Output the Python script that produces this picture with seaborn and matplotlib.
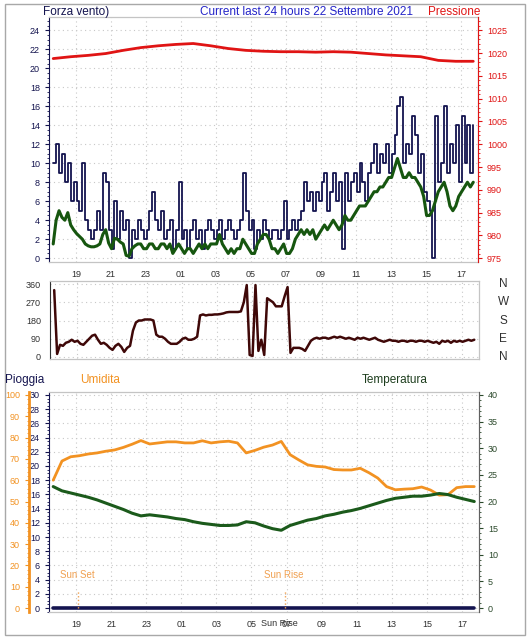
import numpy as np
import pandas as pd
import matplotlib
matplotlib.use("Agg")
import matplotlib.pyplot as plt
import matplotlib.transforms as mtransforms
from matplotlib.patches import Rectangle
from matplotlib.ticker import MultipleLocator
import seaborn as sns

sns.set_style("white")
plt.rcParams['font.family'] = ['Liberation Sans', 'DejaVu Sans']

# raffica (nodi) ogni 10 minuti, dalle 17:42
raffica = [10, 12, 9, 11, 8, 10,
           6, 8, 6, 5, 10, 4,
           3, 2, 3, 5, 3, 9,
           8, 3, 1, 6, 2, 5,
           3, 4, 0, 3, 2, 4,
           3, 2, 3, 5, 7, 4,
           3, 5, 2, 3, 4, 1,
           3, 8, 2, 3, 1, 3,
           4, 2, 3, 1, 3, 4,
           3, 2, 3, 4, 2, 3,
           4, 3, 2, 3, 4, 9,
           5, 3, 4, 1, 3, 2,
           4, 3, 2, 3, 3, 2,
           3, 6, 2, 3, 4, 3,
           4, 5, 8, 6, 7, 5,
           7, 6, 8, 9, 5, 7,
           9, 6, 8, 1, 9, 6,
           8, 9, 7, 10, 8, 6,
           9, 10, 12, 9, 11, 10,
           12, 9, 11, 13, 16, 17,
           10, 12, 11, 15, 13, 9,
           11, 7, 6, 5, 0, 15,
           8, 10, 16, 9, 12, 10,
           14, 8, 15, 10, 14, 9,
           14]

# vento medio ogni 10 minuti
media = [1.5, 4, 5, 4.3, 4, 4.8,
         3.5, 3, 2.6, 2.3, 2, 1.5,
         1.3, 1.2, 1.2, 1.3, 1.5, 2.5,
         3, 1.6, 1, 2.1, 2, 1.7,
         1.5, 0.3, 0.2, 1, 1.3, 1.5,
         1.5, 1, 1, 1.5, 1.5, 1,
         1, 1.5, 1.5, 1, 1.5, 0.5,
         1, 1.5, 1, 0.5, 1, 1,
         0.5, 1, 1.5, 1, 1.5, 1,
         1.5, 1.5, 1.5, 2.5, 1.5, 1,
         0.5, 1, 0.5, 1, 1, 2,
         1.5, 1, 0.5, 0.5, 1.5, 2,
         2.5, 2.5, 2, 1, 1, 0.5,
         1, 1.5, 0.5, 0.5, 1, 2,
         2.5, 3, 2.5, 3, 2.5, 3,
         2, 2.5, 3, 3.5, 3, 3.5,
         4, 3.5, 3, 3.5, 4.5, 4,
         4, 4.5, 5, 5.5, 5.5, 5.5,
         6, 6.5, 7, 7, 7.5, 7.5,
         8, 8.5, 8.5, 9.5, 10.5, 9.5,
         8.5, 8.5, 9, 8.5, 8.5, 8,
         7.5, 6.5, 4.5, 4.5, 5, 6,
         7, 7.5, 8, 7, 5.5, 5,
         5.5, 6.5, 7, 7.5, 8, 7.5,
         8]

# direzione del vento (gradi) ogni 10 minuti
direzione = [330, 15, 60, 55, 70, 75,
             85, 75, 80, 65, 60, 75,
             90, 105, 110, 85, 65, 70,
             60, 45, 35, 55, 65, 50,
             25, 45, 55, 130, 170, 180,
             180, 185, 185, 185, 180, 110,
             100, 100, 90, 75, 65, 65,
             65, 75, 90, 95, 85, 85,
             90, 100, 205, 210, 205, 208,
             208, 210, 210, 212, 215, 220,
             222, 222, 222, 222, 225, 270,
             355, 10, 5, 355, 30, 85,
             10, 290, 280, 270, 250, 250,
             250, 300, 345, 20, 45, 45,
             45, 40, 30, 55, 80, 90,
             95, 90, 95, 95, 90, 95,
             100, 95, 100, 95, 90, 95,
             90, 85, 95, 90, 95, 90,
             85, 90, 95, 85, 80, 75,
             80, 85, 80, 80, 75, 80,
             80, 75, 80, 80, 75, 80,
             80, 75, 80, 75, 70, 75,
             65, 80, 75, 80, 70, 80,
             75, 80, 75, 80, 85, 80,
             85]

# pressione (hPa) ogni ora
pressione = [1018.8, 1019.2, 1019.5, 1019.9, 1020.6, 1021.2, 1021.6, 1021.9,
             1022.1, 1021.6, 1021.0, 1020.6, 1020.4, 1020.3, 1020.3, 1020.2,
             1020.3, 1020.2, 1019.9, 1019.6, 1019.4, 1019.2, 1018.4, 1018.2,
             1018.2]

# umidita (%) ogni 30 minuti
umidita = [60, 69, 71, 71.5, 72.3, 72.8, 73.6, 74.2, 75.4, 76.9,
           78.6, 77, 77.5, 78, 78, 77.5, 77.5, 78.5, 77.5, 78,
           78.3, 77.5, 72.8, 74, 75.5, 76.5, 78.2, 72, 69.5, 67.2,
           66.5, 66.2, 65, 64.8, 64.8, 65.6, 63.5, 61, 57, 55.5,
           55.8, 56, 56.8, 55.4, 53, 53.2, 56.5, 57, 57]

# temperatura (C) ogni 30 minuti
temperatura = [22.8, 22.0, 21.6, 21.2, 20.8, 20.3, 19.7, 19.1, 18.5, 17.8,
               17.3, 17.5, 17.3, 17.1, 16.8, 16.6, 16.2, 15.9, 15.7, 15.5,
               15.5, 15.6, 16.2, 16.0, 15.4, 14.9, 14.6, 15.5, 16.0, 16.5,
               16.8, 17.3, 17.6, 18.0, 18.3, 18.7, 19.2, 19.7, 20.2, 20.6,
               20.8, 21.0, 21.0, 21.2, 21.5, 21.3, 20.8, 20.4, 20.0]

# pioggia (mm) ogni ora
pioggia = [0.0] * 25

sun_times = [19.1, 30.94]
ore_ticks = list(range(19, 42, 2))
ore_labels = ["%02d" % (h % 24) for h in ore_ticks]

t10 = 17.7 + np.arange(len(raffica)) / 6
t30 = 17.7 + np.arange(len(umidita)) * 0.5
t60 = 17.7 + np.arange(len(pressione))

vento = pd.DataFrame({"ora": t10, "raffica": raffica, "media": media, "dir": direzione})
meteo = pd.DataFrame({"ora": t30, "umidita": umidita, "temperatura": temperatura})
ore = pd.DataFrame({"ora": t60, "pressione": pressione, "pioggia": pioggia})

NAVY = "#14144f"
GRID = "#c8c8c8"
BOX = "#c4c4c4"
ORANGE = "#f29222"
TGREEN = "#1b5a1b"
XLIM = (17.46, 41.97)

fig = plt.figure(figsize=(5.31, 6.40), dpi=100)
W, H = 531, 640


def box(l, t, r, b):
    return [l / W, 1 - b / H, (r - l) / W, (b - t) / H]


def style_x(ax, labels=True):
    ax.set_xlim(*XLIM)
    ax.set_xticks(ore_ticks)
    ax.set_xticklabels(ore_labels if labels else [])
    ax.xaxis.set_minor_locator(MultipleLocator(0.5))
    ax.tick_params(axis="x", which="major", length=3, width=0.8, colors="#303030",
                   labelsize=6.5, pad=3)
    ax.tick_params(axis="x", which="minor", length=1.5, width=0.6, colors="#505050")
    if not labels:
        ax.tick_params(axis="x", which="both", length=0)
    ax.set_xlabel("")
    for s in ["top", "right", "bottom"]:
        ax.spines[s].set_color(BOX)
        ax.spines[s].set_linewidth(0.9)
    ax.grid(True, which="major", ls=(0, (1, 3)), color=GRID, lw=0.8)


# ---- pannello vento / pressione
ax1 = fig.add_axes(box(49, 17, 478, 262))
sns.lineplot(data=vento, x="ora", y="raffica", ax=ax1, color=NAVY, lw=1.3,
             drawstyle="steps-post")
sns.lineplot(data=vento, x="ora", y="media", ax=ax1, color="#16560f", lw=2.2)
style_x(ax1)
ax1.set_ylim(-0.4, 25.4)
ax1.set_yticks(range(0, 25, 2))
ax1.yaxis.set_minor_locator(MultipleLocator(0.5))
ax1.tick_params(axis="y", which="major", length=3, width=0.8, colors=NAVY, labelsize=6.5)
ax1.tick_params(axis="y", which="minor", length=1.5, width=0.6, colors=NAVY)
ax1.spines["left"].set_color(NAVY)
ax1.set_ylabel("")

ax1p = ax1.twinx()
sns.lineplot(data=ore, x="ora", y="pressione", ax=ax1p, color="#e01414", lw=2)
ax1p.set_ylim(975 - 0.4 * 50 / 24, 975 + 25.4 * 50 / 24)
ax1p.set_yticks(range(975, 1026, 5))
ax1p.yaxis.set_minor_locator(MultipleLocator(1))
ax1p.tick_params(axis="y", which="major", length=3, width=0.8, colors="#e01414", labelsize=6.5)
ax1p.tick_params(axis="y", which="minor", length=1.5, width=0.6, colors="#e01414")
ax1p.spines["right"].set_color("#e01414")
for s in ["top", "left", "bottom"]:
    ax1p.spines[s].set_visible(False)
ax1p.set_ylabel("")
ax1p.set_xlim(*XLIM)

# ---- pannello direzione
ax2 = fig.add_axes(box(50, 281, 479, 359))
sns.lineplot(data=vento, x="ora", y="dir", ax=ax2, color="#3f0808", lw=1.8)
style_x(ax2, labels=False)
ax2.set_ylim(-10, 375)
ax2.set_yticks([0, 90, 180, 270, 360])
ax2.yaxis.set_minor_locator(MultipleLocator(22.5))
ax2.tick_params(axis="y", which="major", length=3, width=0.8, colors="#303030", labelsize=6.5)
ax2.tick_params(axis="y", which="minor", length=1.5, width=0.6, colors="#303030")
ax2.spines["left"].set_color("#303030")
ax2.set_ylabel("")
tr = mtransforms.blended_transform_factory(ax2.transAxes, ax2.transData)
for deg, lett in zip([360, 270, 180, 90, 0], ["N", "W", "S", "E", "N"]):
    ax2.text(1.056, deg, lett, transform=tr, ha="center", va="center",
             fontsize=8.5, color="#303030")

# ---- pannello pioggia / umidita / temperatura
ax3 = fig.add_axes(box(49, 392, 479, 612))
sns.lineplot(data=ore, x="ora", y="pioggia", ax=ax3, color=NAVY, lw=2.6)
style_x(ax3)
rlim = (-0.56, 30.42)
ax3.set_ylim(*rlim)
ax3.set_yticks(range(0, 31, 2))
ax3.yaxis.set_minor_locator(MultipleLocator(0.5))
ax3.tick_params(axis="y", which="major", length=3, width=0.8, colors=NAVY, labelsize=6.5)
ax3.tick_params(axis="y", which="minor", length=1.5, width=0.6, colors=NAVY)
ax3.spines["left"].set_color(NAVY)
ax3.set_ylabel("")

ax3h = ax3.twinx()
sns.lineplot(data=meteo, x="ora", y="umidita", ax=ax3h, color=ORANGE, lw=2)
ax3h.yaxis.tick_left()
ax3h.spines["left"].set_position(("outward", 14.4))
ax3h.spines["left"].set_color(ORANGE)
ax3h.spines["left"].set_linewidth(2)
for s in ["top", "right", "bottom"]:
    ax3h.spines[s].set_visible(False)
ax3h.set_ylim(rlim[0] * 100 / 30, rlim[1] * 100 / 30)
ax3h.set_yticks(range(0, 101, 10))
ax3h.yaxis.set_minor_locator(MultipleLocator(2))
ax3h.tick_params(axis="y", which="major", length=3, width=0.8, colors=ORANGE, labelsize=6.5)
ax3h.tick_params(axis="y", which="minor", length=1.5, width=0.6, colors=ORANGE)
ax3h.set_ylabel("")
ax3h.set_xlim(*XLIM)

ax3t = ax3.twinx()
sns.lineplot(data=meteo, x="ora", y="temperatura", ax=ax3t, color=TGREEN, lw=2.2)
ax3t.set_ylim(rlim[0] * 40 / 30, rlim[1] * 40 / 30)
ax3t.set_yticks(range(0, 41, 5))
ax3t.yaxis.set_minor_locator(MultipleLocator(1))
ax3t.tick_params(axis="y", which="major", length=3, width=0.8, colors="#2c4a2c", labelsize=6.5)
ax3t.tick_params(axis="y", which="minor", length=1.5, width=0.6, colors="#2c4a2c")
ax3t.spines["right"].set_color("#606060")
for s in ["top", "left", "bottom"]:
    ax3t.spines[s].set_visible(False)
ax3t.set_ylabel("")
ax3t.set_xlim(*XLIM)

# alba / tramonto
ax3.vlines(sun_times, 0, 2.6, colors="#f0a050", linestyles=":", lw=1)
ax3.text(sun_times[0] - 1.0, 4.6, "Sun Set", color="#f0a050", fontsize=7, va="center")
ax3.text(sun_times[1] - 1.25, 4.6, "Sun Rise", color="#f0a050", fontsize=7, va="center")
trb = mtransforms.blended_transform_factory(ax3.transData, ax3.transAxes)
ax3.text(sun_times[1] - 0.35, -0.05, "Sun Rise", transform=trb, ha="center", va="center",
         fontsize=6.5, color="#303030")

# titoli
fig.text(43 / W, 1 - 12 / H, "Forza vento)", color=NAVY, fontsize=8.5, va="center")
fig.text(200 / W, 1 - 12 / H, "Current last 24 hours 22 Settembre 2021", color="#2424c8",
         fontsize=8.5, va="center")
fig.text(428 / W, 1 - 12 / H, "Pressione", color="#e01414", fontsize=8.5, va="center")
fig.text(5 / W, 1 - 380 / H, "Pioggia", color=NAVY, fontsize=8.5, va="center")
fig.text(80 / W, 1 - 380 / H, "Umidita", color=ORANGE, fontsize=8.5, va="center")
fig.text(362 / W, 1 - 380 / H, "Temperatura", color="#1e3e1e", fontsize=8.5, va="center")

fig.patches.append(Rectangle((5 / W, 1 - 635 / H), 520 / W, 631 / H, transform=fig.transFigure,
                             fill=False, ec="#a8a8a8", lw=1))

fig.savefig("out.png", dpi=100, facecolor="white")
